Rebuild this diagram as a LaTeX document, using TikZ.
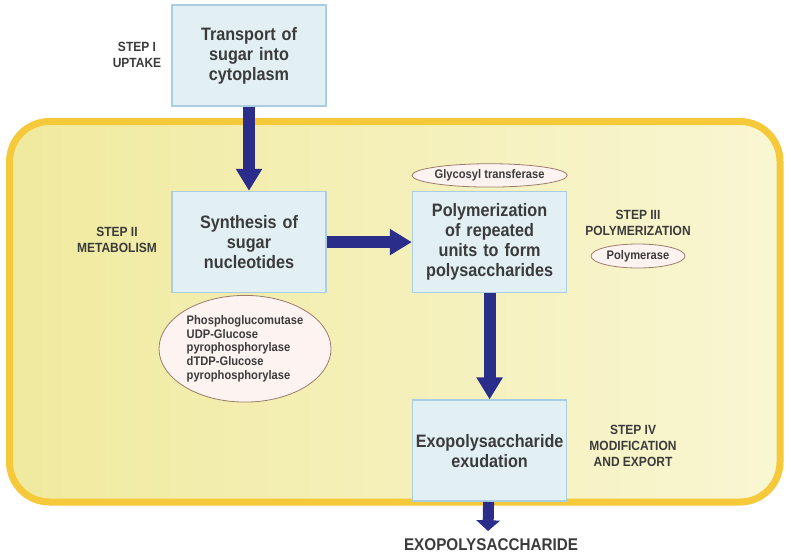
\documentclass[tikz,border=0pt]{standalone}
\usepackage{fontspec}
\setmainfont{Liberation Sans}[FakeStretch=0.9]
\usetikzlibrary{positioning,arrows.meta,shapes.geometric}
\definecolor{boxfill}{HTML}{E2F0F4}
\definecolor{boxline}{HTML}{A9CDE2}
\definecolor{navy}{HTML}{2A2E8A}
\definecolor{gold}{HTML}{F5C93A}
\definecolor{cellleft}{HTML}{F0EA9F}
\definecolor{cellright}{HTML}{F9F6D3}
\definecolor{enzfill}{HTML}{FDF4F2}
\definecolor{enzline}{HTML}{9C7B6B}
\definecolor{ink}{HTML}{3B3B3B}
\tikzset{
x=0.75pt, y=-0.75pt,
stage/.style={draw=boxline, fill=boxfill, line width=1.2pt, minimum width=115.5pt,
  minimum height=75.75pt, text width=112pt, align=center, inner sep=0pt,
  font=\bfseries\fontsize{13.5}{15}\selectfont, text=ink},
enzyme/.style={ellipse, draw=enzline, fill=enzfill, line width=0.6pt, inner sep=0pt,
  font=\bfseries\fontsize{9.3}{10.2}\selectfont, text=ink},
steplabel/.style={align=center, font=\bfseries\fontsize{10}{12}\selectfont, text=ink},
flow/.style={-{Triangle[width=18.75pt,length=16.5pt]}, line width=9pt, draw=navy},
}

\begin{document}
\begin{tikzpicture}
    \fill[white] (0,0) rectangle (791,553);
    \useasboundingbox (0,0) rectangle (791,553);
    % cell
    \draw[line width=5.25pt, draw=gold, left color=cellleft, right color=cellright,
      rounded corners=30pt] (9.5,121.5) rectangle (780,502);

    \node[stage] (transport) at (249,55.5) {Transport of\\sugar into\\cytoplasm};
    \node[stage,below=63pt of transport] (synthesis) {Synthesis of\\sugar\\nucleotides};
    \node[stage,right=63.75pt of synthesis] (polymer) {Polymerization\\of repeated\\units to form\\polysaccharides};
    \node[stage,below=79.5pt of polymer] (exudation) {Exopolysaccharide\\exudation};

    \node[enzyme,minimum width=96pt,minimum height=17.5pt,above=2.5pt of polymer] (glyco) {Glycosyl transferase};
    \node[enzyme,minimum width=129pt,minimum height=80pt,below=1.2pt of synthesis,xshift=-3pt,align=left] (sugarenz)
      {Phosphoglucomutase\\UDP-Glucose\\pyrophosphorylase\\dTDP-Glucose\\pyrophosphorylase};

    \node[steplabel] (step1) at (137,55) {STEP I\\UPTAKE};
    \node[steplabel] (step2) at (117,240) {STEP II\\METABOLISM};
    \node[steplabel] (step3) at (638,223) {STEP III\\POLYMERIZATION};
    \node[enzyme,minimum width=70.5pt,minimum height=18pt] (polymerase) at (638,256) {Polymerase};
    \node[steplabel] (step4) at (633,446) {STEP IV\\MODIFICATION\\AND EXPORT};

    \coordinate (out) at (488,531);
    \node[font=\bfseries\fontsize{12.7}{14}\selectfont, text=ink, inner sep=0pt] (eps) at (491,544.5) {EXOPOLYSACCHARIDE};

    \draw[flow] (transport) -- (synthesis);
    \draw[flow] (synthesis) -- (polymer);
    \draw[flow] (polymer) -- (exudation);
    \draw[flow,-{Triangle[width=17.5pt,length=8pt]}, line width=8.25pt] (exudation) -- (out);
\end{tikzpicture}
\end{document}
